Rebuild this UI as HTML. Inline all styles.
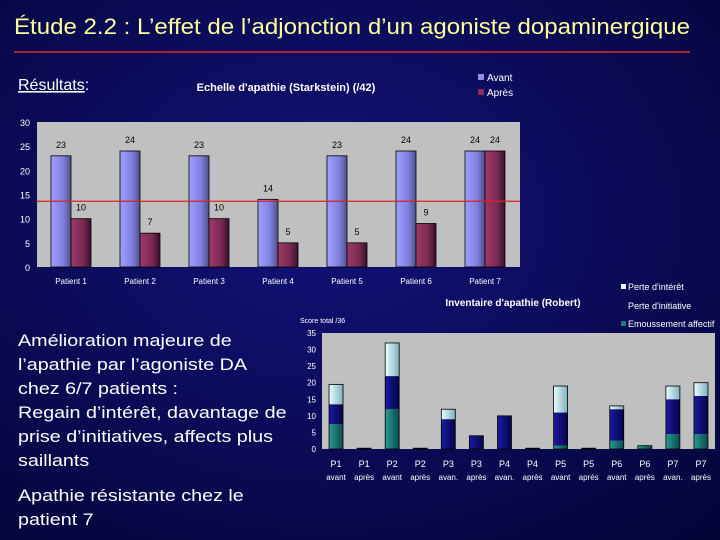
<!DOCTYPE html>
<html><head><meta charset="utf-8"><style>
html,body{margin:0;padding:0;width:720px;height:540px;overflow:hidden;background:#06064a}
svg{display:block;font-family:"Liberation Sans",Arial,sans-serif}
</style></head><body>
<svg id="s" width="720" height="540" viewBox="0 0 720 540">
<defs>
<radialGradient id="bg" cx="0.45" cy="0.4" r="0.8"><stop offset="0" stop-color="#12127a"/><stop offset="1" stop-color="#040438"/></radialGradient>
<linearGradient id="gA" x1="0" x2="1"><stop offset="0" stop-color="#a0a0ff"/><stop offset="0.6" stop-color="#8080e0"/><stop offset="1" stop-color="#50508a"/></linearGradient>
<linearGradient id="gB" x1="0" x2="1"><stop offset="0" stop-color="#a03a6a"/><stop offset="0.6" stop-color="#7a2a50"/><stop offset="1" stop-color="#3a1030"/></linearGradient>
<linearGradient id="gT" x1="0" x2="1"><stop offset="0" stop-color="#2a9a90"/><stop offset="1" stop-color="#0a4a50"/></linearGradient>
<linearGradient id="gD" x1="0" x2="1"><stop offset="0" stop-color="#1a1aa0"/><stop offset="1" stop-color="#05054a"/></linearGradient>
<linearGradient id="gL" x1="0" x2="1"><stop offset="0" stop-color="#e8ffff"/><stop offset="1" stop-color="#80b0c0"/></linearGradient>
</defs>
<rect width="720" height="540" fill="url(#bg)"/>
<text x="14" y="34" font-size="22" fill="#ffff99" textLength="676" lengthAdjust="spacingAndGlyphs">Étude 2.2 : L’effet de l’adjonction d’un agoniste dopaminergique</text>
<line x1="14" y1="52" x2="690" y2="52" stroke="#b02030" stroke-width="2"/>
<text x="18" y="90" font-size="16" fill="#fff"><tspan text-decoration="underline">Résultats</tspan>:</text>
<g font-size="17" fill="#fff" transform="translate(18 0) scale(1.16 1) translate(-18 0)">
<text x="18" y="346">Amélioration majeure de</text>
<text x="18" y="370">l’apathie par l’agoniste DA</text>
<text x="18" y="394">chez 6/7 patients :</text>
<text x="18" y="418">Regain d’intérêt, davantage de</text>
<text x="18" y="442">prise d’initiatives, affects plus</text>
<text x="18" y="466">saillants</text>
<text x="18" y="501">Apathie résistante chez le</text>
<text x="18" y="525">patient 7</text>
</g>
<g id="c1"></g>
<g id="c2"></g>
</svg>
<script>
const patients=["Patient 1","Patient 2","Patient 3","Patient 4","Patient 5","Patient 6","Patient 7"];
const avant=[23,24,23,14,23,24,24];
const apres=[10,7,10,5,5,9,24];
const yTicks1=[0,5,10,15,20,25,30];
const threshold=13.6;
const cats2=[["P1","avant"],["P1","après"],["P2","avant"],["P2","après"],["P3","avan."],["P3","après"],["P4","avan."],["P4","après"],["P5","avant"],["P5","après"],["P6","avant"],["P6","après"],["P7","avan."],["P7","après"]];
const emouss=[7.5,0,12,0,0,0,0,0,1,0,2.5,1,4.5,4.5];
const initiative=[6,0,10,0,9,4,10,0,10,0,9.5,0,10.5,11.5];
const interet=[6,0,10,0,3,0,0,0,8,0,1,0,4,4];
const yTicks2=[0,5,10,15,20,25,30,35];
const NS="http://www.w3.org/2000/svg";
function mk(p,t,a,txt){const e=document.createElementNS(NS,t);for(const k in a)e.setAttribute(k,a[k]);if(txt!==undefined)e.textContent=txt;p.appendChild(e);return e;}
// chart 1
const c1=document.getElementById('c1');
const L1=37,R1=520,T1=122,B1=267;
const y1=v=>B1-(v/30)*(B1-T1);
const bw1=(R1-L1)/7;
let e=mk(c1,'rect',{x:L1,y:T1,width:R1-L1,height:B1-T1,fill:'#c0c0c0'});

mk(c1,'text',{x:286,y:91,'font-size':11,'font-weight':'bold',fill:'#fff','text-anchor':'middle'},"Echelle d'apathie (Starkstein) (/42)");
yTicks1.forEach(t=>{e=mk(c1,'text',{x:30,y:y1(t)+4,'font-size':9,fill:'#fff','text-anchor':'end'},t);
});
patients.forEach((p,i)=>{
 const x0=L1+i*bw1+14;
 e=mk(c1,'rect',{x:x0,y:y1(avant[i]),width:20,height:B1-y1(avant[i]),fill:'url(#gA)',stroke:'#000','stroke-width':0.8});
 
 e=mk(c1,'rect',{x:x0+20,y:y1(apres[i]),width:20,height:B1-y1(apres[i]),fill:'url(#gB)',stroke:'#000','stroke-width':0.8});
 
 mk(c1,'text',{x:x0+10,y:y1(avant[i])-8,'font-size':9,fill:'#000','text-anchor':'middle'},avant[i]);
 mk(c1,'text',{x:x0+30,y:y1(apres[i])-8,'font-size':9,fill:'#000','text-anchor':'middle'},apres[i]);
 e=mk(c1,'text',{x:x0+20,y:284,'font-size':8,fill:'#fff','text-anchor':'middle'},p);
 
});
e=mk(c1,'line',{x1:L1,x2:R1,y1:y1(threshold),y2:y1(threshold),stroke:'#e02020','stroke-width':1.2});

e=mk(c1,'rect',{x:478,y:74,width:6,height:6,fill:'#9090e0'});

mk(c1,'text',{x:487,y:81,'font-size':10,fill:'#fff'},'Avant');
e=mk(c1,'rect',{x:478,y:89,width:6,height:6,fill:'#8a2a58'});

mk(c1,'text',{x:487,y:96,'font-size':10,fill:'#fff'},'Après');
// chart 2
const c2=document.getElementById('c2');
const L2=322,R2=715,T2=333,B2=449;
const y2=v=>B2-(v/35)*(B2-T2);
const bw2=(R2-L2)/14;
e=mk(c2,'rect',{x:L2,y:T2,width:R2-L2,height:B2-T2,fill:'#c0c0c0'});

mk(c2,'text',{x:513,y:306,'font-size':10,'font-weight':'bold',fill:'#fff','text-anchor':'middle'},"Inventaire d'apathie (Robert)");
mk(c2,'text',{x:300,y:323,'font-size':7,fill:'#fff'},"Score total /36");
yTicks2.forEach(t=>{e=mk(c2,'text',{x:316,y:y2(t)+3,'font-size':8,fill:'#fff','text-anchor':'end'},t);
});
cats2.forEach((c,i)=>{
 const x0=L2+i*bw2+bw2/2-7;
 let base=0;
 [[emouss,'url(#gT)','seg-emoussement'],[initiative,'url(#gD)','seg-initiative'],[interet,'url(#gL)','seg-interet']].forEach(([arr,f,n])=>{
  const v=arr[i];
  e=mk(c2,'rect',{x:x0,y:y2(base+v),width:14,height:y2(base)-y2(base+v),fill:f});
  
  base+=v;
 });
 e=mk(c2,'rect',{x:x0,y:y2(base)-(base?0:0.8),width:14,height:y2(0)-y2(base)+(base?0:0.8),fill:'none',stroke:'#000','stroke-width':0.8});
 
 mk(c2,'text',{x:x0+7,y:467,'font-size':9,fill:'#fff','text-anchor':'middle'},c[0]);
 e=mk(c2,'text',{x:x0+7,y:480,'font-size':8,fill:'#fff','text-anchor':'middle'},c[1]);
 
});
[['#e0ffff',"Perte d'intérêt",290],[null,"Perte d'initiative",309],['#1a7a7a','Emoussement affectif',327]].forEach(([col,t,yy])=>{
 if(col){e=mk(c2,'rect',{x:621,y:yy-6,width:5,height:5,fill:col});
 }
 e=mk(c2,'text',{x:628,y:yy,'font-size':9,fill:'#fff'},t);
 
});
</script>
</body></html>
